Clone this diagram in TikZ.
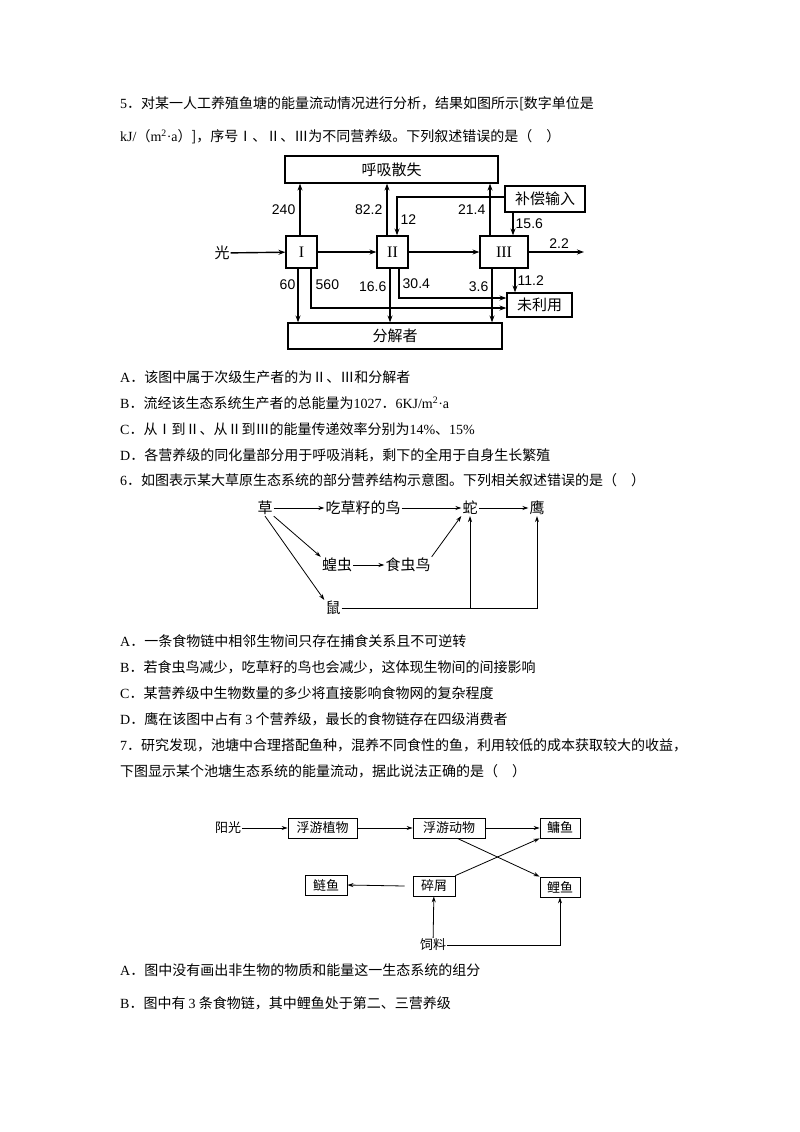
\documentclass[tikz,border=0pt]{standalone}
\usepackage{fontspec}
\setmainfont{Noto Sans CJK SC}
\newfontfamily\lat{Liberation Serif}
\newfontfamily\num{Liberation Sans}
\usetikzlibrary{positioning, arrows.meta}
\newcommand{\La}[1]{{\lat #1}}
\begin{document}
\begin{tikzpicture}[x=1pt, y=-1pt,
    txt/.style={anchor=west, inner sep=0pt, font=\fontsize{14}{14}\selectfont},
    arr/.style={-{Stealth[length=7pt, width=5pt]}, line width=1.4pt},
    thin arr/.style={-{Stealth[length=6pt, width=4pt]}, line width=0.8pt},
    bigbox/.style={draw, line width=1.2pt, inner sep=0pt, font=\fontsize{15}{15}\selectfont},
    lvl/.style={draw, line width=1.2pt, inner sep=0pt, minimum height=32pt, font=\lat\fontsize{16}{16}\selectfont},
    val/.style={inner sep=0pt, font=\num\fontsize{14}{14}\selectfont},
    sp/.style={inner sep=1pt, font=\fontsize{15}{15}\selectfont},
    fbox/.style={draw, line width=0.8pt, inner sep=0pt, minimum height=20pt, font=\fontsize{13}{13}\selectfont}]
\useasboundingbox (0,0) rectangle (800,1132);
\fill[white] (0,0) rectangle (800,1132);

% question 5
\node[txt] (q5a) at (120,104) {\La{5}．对某一人工养殖鱼塘的能量流动情况进行分析，结果如图所示[数字单位是};
\node[txt] (q5b) at (120,137) {\La{kJ/}（\La{m\textsuperscript{2}·a}）]，序号Ⅰ、Ⅱ、Ⅲ为不同营养级。下列叙述错误的是（　）};

% diagram 1
\node[bigbox, minimum width=213pt, minimum height=27pt] (resp) at (391.5,169.5) {呼吸散失};
\node[bigbox, minimum width=214pt, minimum height=26pt] (dec) at (395,336) {分解者};
\node[lvl, minimum width=31pt] (L1) at (301.5,252) {I};
\node[lvl, minimum width=31pt] (L2) at (392.5,252) {II};
\node[lvl, minimum width=48pt] (L3) at (504,252) {III};
\node[bigbox, minimum width=80pt, minimum height=26pt] (comp) at (545,199) {补偿输入};
\node[bigbox, minimum width=65pt, minimum height=24pt] (unused) at (539.5,305) {未利用};
\node[sp] (light) at (222,253) {光};
\coordinate (out) at (584,252);

\draw[arr] (light) -- (L1);
\draw[arr] (L1) -- (L2);
\draw[arr] (L2) -- (L3);
\draw[arr] (L3) -- (out) node[val, pos=0.55, above=3pt] {2.2};
\draw[arr] (L1.north -| 300,0) -- (resp.south -| 300,0) node[val, midway, left=4pt] {240};
\draw[arr] (L2.north -| 387,0) -- (resp.south -| 387,0) node[val, midway, left=4pt] {82.2};
\draw[arr] (L3.north -| 490,0) -- (resp.south -| 490,0) node[val, midway, left=4pt] {21.4};
\draw[arr] (L1.south -| 298,0) -- (dec.north -| 298,0) node[val, pos=0.3, left=2pt] {60};
\draw[arr] (L2.south -| 390,0) -- (dec.north -| 390,0) node[val, pos=0.33, left=3pt] {16.6};
\draw[arr] (L3.south -| 492,0) -- (dec.north -| 492,0) node[val, pos=0.33, left=3pt] {3.6};
\draw[arr] (L1.south -| 311,0) |- (unused.west |- 0,308) node[val, pos=0.2, right=4pt] {560};
\draw[arr] (L2.south -| 399,0) |- (unused.west |- 0,298) node[val, pos=0.25, right=3pt] {30.4};
\draw[arr] (comp.west |- 0,197) -| (L2.north -| 397,0) node[val, pos=0.8, right=3pt] {12};
\draw[arr] (comp.south -| 513,0) -- (L3.north -| 513,0) node[val, midway, right=2pt] {15.6};
\draw[arr] (L3.south -| 515,0) -- (unused.north -| 515,0) node[val, midway, right=2pt] {11.2};

% options 5
\node[txt] (o5a) at (120,377) {\La{A}．该图中属于次级生产者的为Ⅱ、Ⅲ和分解者};
\node[txt] (o5b) at (120,403) {\La{B}．流经该生态系统生产者的总能量为\La{1027}．\La{6KJ/m\textsuperscript{2}·a}};
\node[txt] (o5c) at (120,429) {\La{C}．从Ⅰ到Ⅱ、从Ⅱ到Ⅲ的能量传递效率分别为\La{14\%}、\La{15\%}};
\node[txt] (o5d) at (120,455) {\La{D}．各营养级的同化量部分用于呼吸消耗，剩下的全用于自身生长繁殖};
\node[txt] (q6) at (120,480) {\La{6}．如图表示某大草原生态系统的部分营养结构示意图。下列相关叙述错误的是（　）};

% diagram 2
\node[sp] (grass) at (265,508) {草};
\node[sp] (seedbird) at (363,508) {吃草籽的鸟};
\node[sp] (snake) at (470,508) {蛇};
\node[sp] (hawk) at (537,508) {鹰};
\node[sp] (locust) at (337,565) {蝗虫};
\node[sp] (insbird) at (408,565) {食虫鸟};
\node[sp] (mouse) at (333,608) {鼠};
\draw[thin arr] (grass) -- (seedbird);
\draw[thin arr] (seedbird) -- (snake);
\draw[thin arr] (snake) -- (hawk);
\draw[thin arr] (grass.south east) -- (locust.north west);
\draw[thin arr] (grass.south) -- (mouse.north west);
\draw[thin arr] (locust) -- (insbird);
\draw[thin arr] (insbird.north east) -- (snake.south west);
\draw[thin arr] (mouse) -| (hawk.south);
\draw[thin arr] (snake.south |- mouse) -- (snake.south);

% options 6
\node[txt] (o6a) at (120,641) {\La{A}．一条食物链中相邻生物间只存在捕食关系且不可逆转};
\node[txt] (o6b) at (120,667) {\La{B}．若食虫鸟减少，吃草籽的鸟也会减少，这体现生物间的间接影响};
\node[txt] (o6c) at (120,693) {\La{C}．某营养级中生物数量的多少将直接影响食物网的复杂程度};
\node[txt] (o6d) at (120,719) {\La{D}．鹰在该图中占有 \La{3} 个营养级，最长的食物链存在四级消费者};
\node[txt] (q7a) at (120,745) {\La{7}．研究发现，池塘中合理搭配鱼种，混养不同食性的鱼，利用较低的成本获取较大的收益，};
\node[txt] (q7b) at (120,771) {下图显示某个池塘生态系统的能量流动，据此说法正确的是（　）};

% diagram 3
\node[inner sep=1pt, font=\fontsize{13}{13}\selectfont] (sun) at (228,828) {阳光};
\node[fbox, minimum width=69pt] (phyto) at (322.5,828) {浮游植物};
\node[fbox, minimum width=72pt] (zoo) at (449,828) {浮游动物};
\node[fbox, minimum width=40pt] (bighead) at (560,828) {鳙鱼};
\node[fbox, minimum width=42pt] (silver) at (326,885) {鲢鱼};
\node[fbox, minimum width=42pt] (detritus) at (434,886) {碎屑};
\node[fbox, minimum width=40pt] (carp) at (560,887) {鲤鱼};
\node[inner sep=1pt, font=\fontsize{13}{13}\selectfont] (feed) at (433,945) {饲料};
\draw[thin arr] (sun) -- (phyto);
\draw[thin arr] (phyto) -- (zoo);
\draw[thin arr] (zoo) -- (bighead);
\draw[thin arr] (zoo.south east) ++(-28,0) -- (carp.north west);
\draw[thin arr] (detritus.north east) -- (bighead.south west);
\draw[thin arr] (detritus.west) ++(-8,0) -- (silver.east);
\draw[thin arr] (feed) -- (detritus);
\draw[thin arr] (feed) -| (carp.south);

% options 7
\node[txt] (o7a) at (120,970) {\La{A}．图中没有画出非生物的物质和能量这一生态系统的组分};
\node[txt] (o7b) at (120,1003) {\La{B}．图中有 \La{3} 条食物链，其中鲤鱼处于第二、三营养级};
\end{tikzpicture}
\end{document}
